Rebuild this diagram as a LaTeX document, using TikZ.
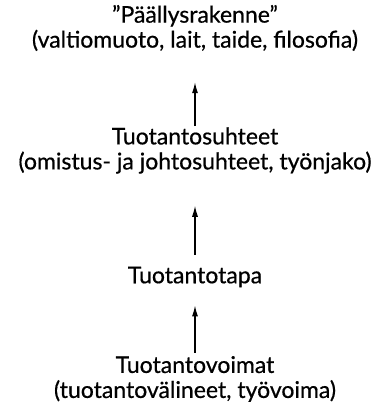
\documentclass[tikz,border=0pt]{standalone}
\usepackage{fontspec}
\setmainfont{Lato}[FakeBold=0.6]
\usetikzlibrary{arrows.meta}

\begin{document}
\begin{tikzpicture}[x=1pt,y=-1pt,font=\fontsize{23}{25}\selectfont,
  level/.style={align=center,inner sep=0pt},
  uparrow/.style={-{Latex[length=11pt,width=6pt]},line width=1.2pt}]
  \useasboundingbox (0,0) rectangle (390,413);

  % Levels
  \node[level] (paall) at (195,28) {”Päällysrakenne”\\(valtiomuoto, lait, taide, filosofia)};
  \node[level] (suhteet) at (195,150.5) {Tuotantosuhteet\\(omistus- ja johtosuhteet, työnjako)};
  \node[level] (tapa) at (195,277) {Tuotantotapa};
  \node[level] (voimat) at (195,379) {Tuotantovoimat\\(tuotantovälineet, työvoima)};

  % Arrows
  \draw[uparrow,shorten <=1pt,shorten >=31pt] (suhteet.north) -- (paall.south);
  \draw[uparrow,shorten <=12pt,shorten >=32pt] (tapa.north) -- (suhteet.south);
  \draw[uparrow,shorten <=3pt,shorten >=18pt] (voimat.north) -- (tapa.south);
\end{tikzpicture}
\end{document}
